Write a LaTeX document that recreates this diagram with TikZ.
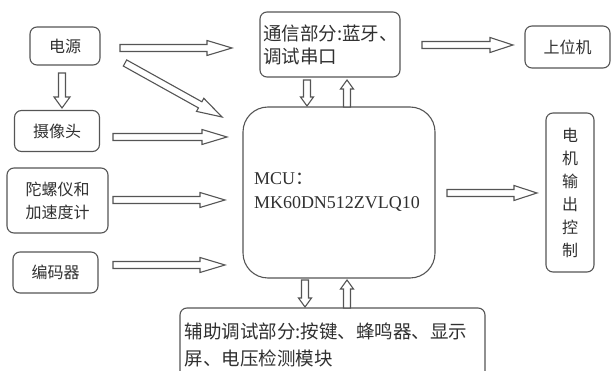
\documentclass[tikz,border=0pt]{standalone}
\usepackage{fontspec}
\setmainfont{Liberation Serif}
\newfontfamily\cjk{Noto Sans CJK SC}
\usetikzlibrary{calc}
\definecolor{edge}{HTML}{555555}
\definecolor{ink}{HTML}{303030}
\tikzset{
  box/.style={draw=edge, line width=1.1pt, rounded corners=7pt, text=ink, inner sep=0pt, align=center,
    font=\cjk\fontsize{16}{23}\selectfont},
  commtext/.style={font=\cjk\fontsize{18.5}{23}\selectfont, align=left},
  auxtext/.style={font=\cjk\fontsize{18.5}{27}\selectfont, align=left},
  blk/.style={draw=edge, line width=1.1pt, line join=miter, fill=white}
}
\newcommand\barrow[4]{%
  \path ($(#2)!#3!(#1)$) coordinate (bh);
  \draw[blk] ($(#1)!3.5pt!90:(#2)$) -- ($(bh)!3.5pt!-90:(#1)$) -- ($(bh)!#4!-90:(#1)$) -- (#2)
    -- ($(bh)!#4!90:(#1)$) -- ($(bh)!3.5pt!90:(#1)$) -- ($(#1)!3.5pt!-90:(#2)$) -- cycle;
}
\begin{document}
\begin{tikzpicture}[x=1pt, y=-1pt]
\useasboundingbox (0,0) rectangle (616,371);
% boxes
\node[box, minimum width=70pt, minimum height=38pt] (pwr) at (65,46) {电源};
\node[box, minimum width=85pt, minimum height=41pt] (cam) at (57,131) {摄像头};
\node[box, minimum width=101pt, minimum height=65pt] (gyro) at (57.5,200.5) {陀螺仪和\\加速度计};
\node[box, minimum width=85pt, minimum height=41pt] (enc) at (55.5,272.5) {编码器};
\node[box, commtext, minimum width=140pt, minimum height=65pt, text width=134pt] (comm) at (330,44.5) {通信部分:蓝牙、\\调试串口};
\node[box, minimum width=85pt, minimum height=42pt] (host) at (567.5,47) {上位机};
\node[box, rounded corners=25pt, minimum width=192pt, minimum height=171pt, text width=170pt, align=left,
  font=\fontsize{18}{24}\selectfont] (mcu) at (339,192.5) {MCU{\cjk ：}\\MK60DN512ZVLQ10};
\node[box, minimum width=48pt, minimum height=159pt] (motor) at (570,192.5) {电\\机\\输\\出\\控\\制};
\node[box, auxtext, minimum width=305pt, minimum height=74pt, text width=296pt] (aux) at (332.5,345) {辅助调试部分:按键、蜂鸣器、显示\\屏、电压检测模块};
% arrow end points
\coordinate (a1s) at (120,48);  \coordinate (a1e) at (232,48);
\coordinate (a2s) at (125,63);  \coordinate (a2e) at (222,117);
\coordinate (a3s) at (62,73);   \coordinate (a3e) at (62,108);
\coordinate (a4s) at (113,137); \coordinate (a4e) at (227,137);
\coordinate (a5s) at (113,200); \coordinate (a5e) at (225,200);
\coordinate (a6s) at (113,265); \coordinate (a6e) at (225,265);
\coordinate (a7s) at (422,45);  \coordinate (a7e) at (513,45);
\coordinate (a8s) at (307,80);  \coordinate (a8e) at (307,106);
\coordinate (a9s) at (347,107); \coordinate (a9e) at (347,80);
\coordinate (a10s) at (447,193); \coordinate (a10e) at (537,193);
\coordinate (a11s) at (305,280); \coordinate (a11e) at (305,307);
\coordinate (a12s) at (347,308); \coordinate (a12e) at (347,280);
% arrows
\barrow{a1s}{a1e}{25pt}{7.5pt}
\barrow{a2s}{a2e}{25pt}{7.5pt}
\barrow{a3s}{a3e}{11pt}{8pt}
\barrow{a4s}{a4e}{25pt}{7.5pt}
\barrow{a5s}{a5e}{25pt}{7.5pt}
\barrow{a6s}{a6e}{25pt}{7.5pt}
\barrow{a7s}{a7e}{23pt}{7.5pt}
\barrow{a8s}{a8e}{9pt}{6.5pt}
\barrow{a9s}{a9e}{9pt}{6.5pt}
\barrow{a10s}{a10e}{23pt}{7.5pt}
\barrow{a11s}{a11e}{9pt}{6.5pt}
\barrow{a12s}{a12e}{9pt}{6.5pt}
\end{tikzpicture}
\end{document}
